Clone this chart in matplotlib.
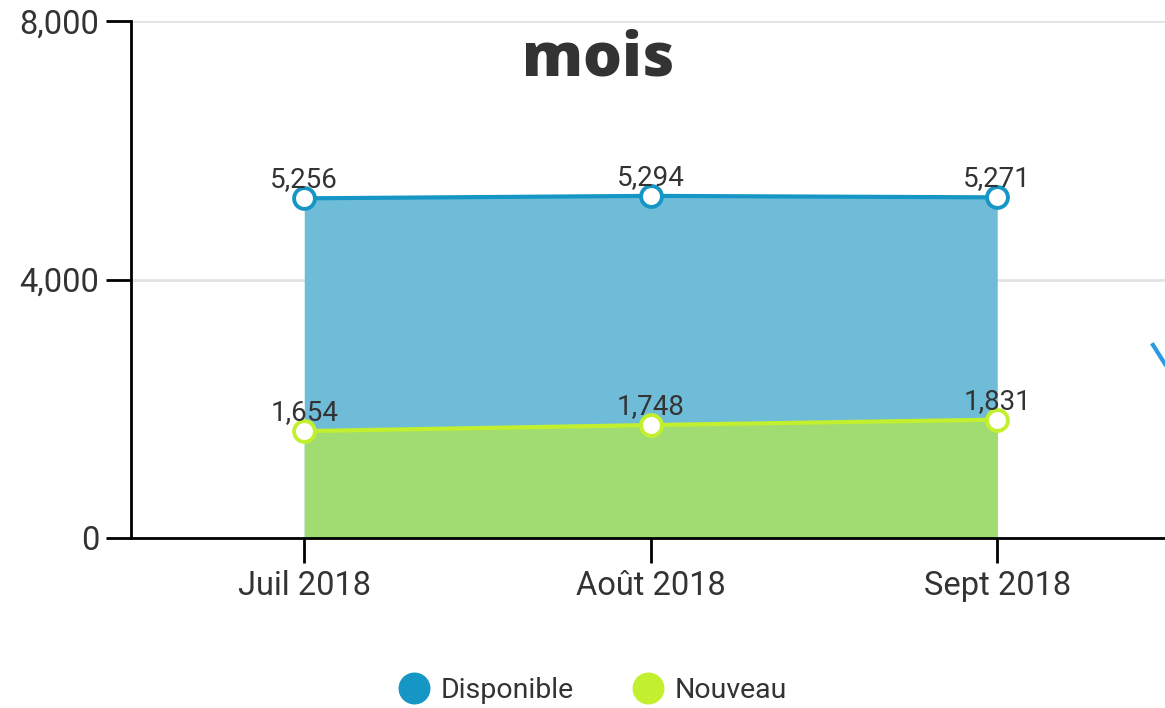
import matplotlib.pyplot as plt
from matplotlib.lines import Line2D

plt.rcParams['font.family'] = ['Roboto', 'DejaVu Sans']

# data
mois = ['Juil 2018', 'Août 2018', 'Sept 2018']
disponible = [5256, 5294, 5271]
nouveau = [1654, 1748, 1831]
yticks = [0, 4000, 8000]

bleu_ligne = '#1596c5'
bleu_aire = '#6fbcd9'
vert_ligne = '#c2f02e'
vert_aire = '#a0dc71'
gris_txt = '#333333'

fig = plt.figure(figsize=(11.65, 7.08), dpi=100)
ax = fig.add_axes([131 / 1165, 1 - 538 / 708, 1039.5 / 1165, 517 / 708])

x = list(range(len(mois)))

# aires (non empilees)
ax.fill_between(x, 0, disponible, color=bleu_aire, lw=0, zorder=1)
ax.fill_between(x, 0, nouveau, color=vert_aire, lw=0, zorder=2)
ax.plot(x, disponible, color=bleu_ligne, lw=3, zorder=3,
        marker='o', ms=15, mfc='white', mec=bleu_ligne, mew=2.8)
ax.plot(x, nouveau, color=vert_ligne, lw=3, zorder=3,
        marker='o', ms=15, mfc='white', mec=vert_ligne, mew=2.8)

for xi, v in zip(x, disponible):
    ax.annotate(f'{v:,}', (xi, v), xytext=(0, 8), textcoords='offset points',
                ha='center', va='baseline', fontsize=20, color=gris_txt, zorder=5)
for xi, v in zip(x, nouveau):
    ax.annotate(f'{v:,}', (xi, v), xytext=(0, 8), textcoords='offset points',
                ha='center', va='baseline', fontsize=20, color=gris_txt, zorder=5)

ax.set_xlim(-0.5, 2.5)
ax.set_ylim(0, 8000)
ax.set_xticks(x)
ax.set_xticklabels(mois)
ax.set_yticks(yticks)
ax.set_yticklabels([f'{t:,}' for t in yticks])
ax.tick_params(axis='both', length=18, width=2, color='black',
               labelsize=23.5, labelcolor=gris_txt, pad=5)
ax.grid(axis='y', color='#e3e3e3', lw=2, zorder=0)
ax.set_axisbelow(True)
for s in ['top', 'right']:
    ax.spines[s].set_visible(False)
for s in ['left', 'bottom']:
    ax.spines[s].set_linewidth(2)
    ax.spines[s].set_color('black')
ax.spines['left'].set_zorder(6)

# titre (premiere ligne hors cadre)
fig.text(598 / 1165, 1 - 76 / 708, 'mois', ha='center', va='baseline',
         fontsize=44, fontweight=800, color=gris_txt,
         family=['Open Sans', 'DejaVu Sans'])

# fragment bleu a droite
fig.add_artist(Line2D([1153 / 1165, 1.0], [1 - 345 / 708, 1 - 364 / 708],
                      color='#2a9be0', lw=3, transform=fig.transFigure))

handles = [Line2D([], [], ls='none', marker='o', ms=22, color=bleu_ligne),
           Line2D([], [], ls='none', marker='o', ms=22, color=vert_ligne)]
fig.legend(handles, ['Disponible', 'Nouveau'], loc='center',
           bbox_to_anchor=(592 / 1165, 1 - 690 / 708), ncol=2, frameon=False,
           fontsize=20.5, labelcolor=gris_txt, handletextpad=0.35,
           columnspacing=2.0, handlelength=1.2)

fig.savefig('out.png', dpi=100)
